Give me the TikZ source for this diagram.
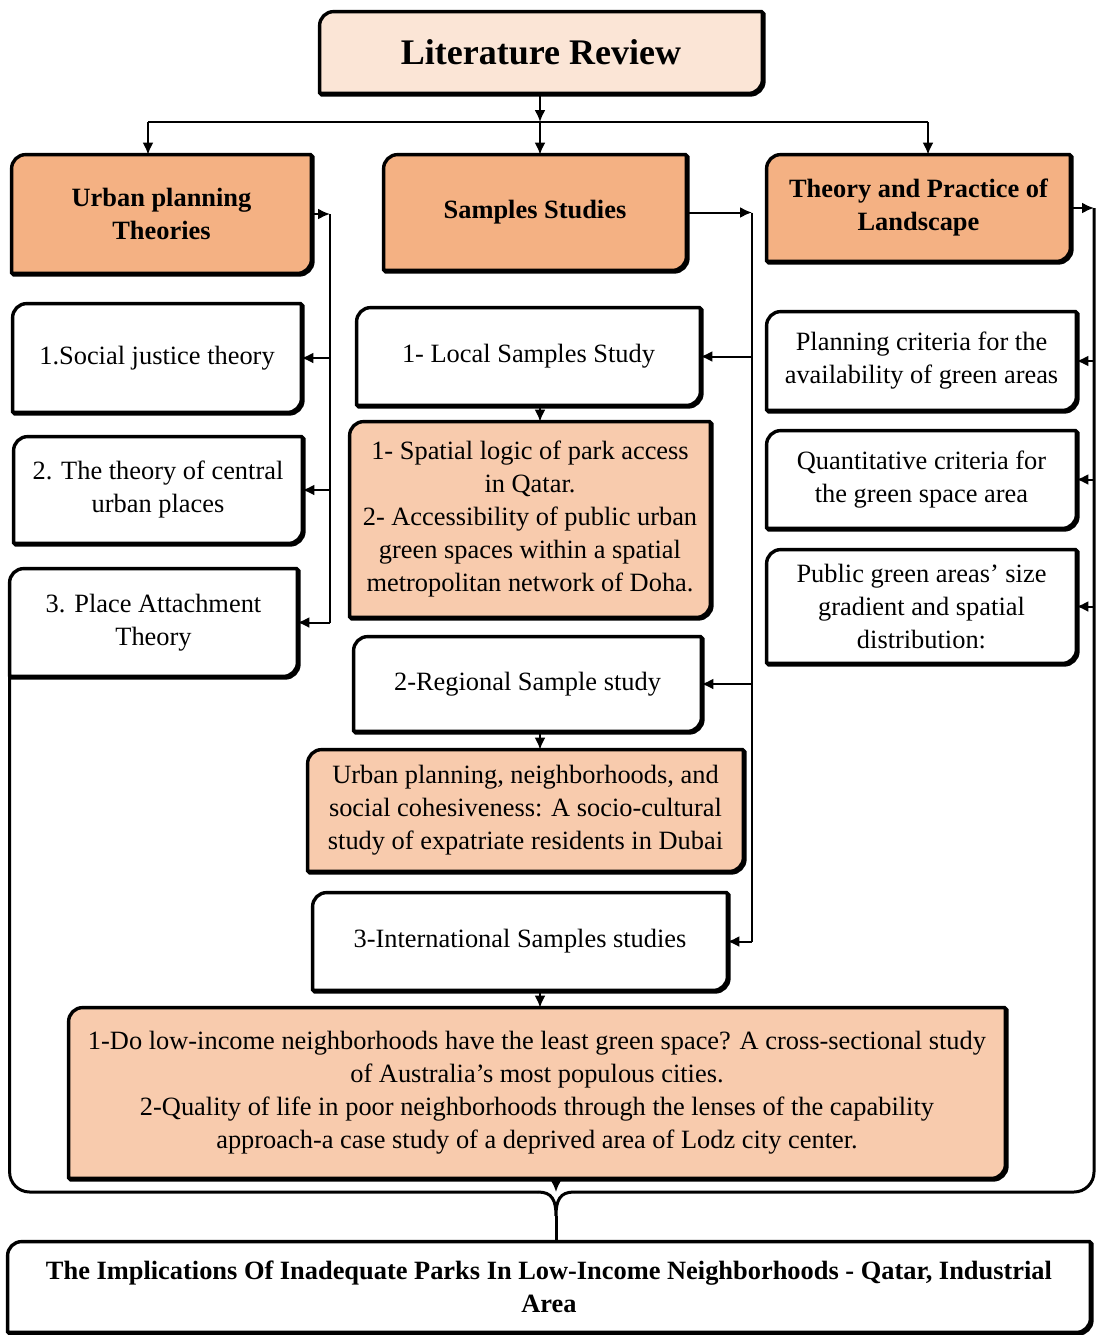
\documentclass[tikz,border=0pt]{standalone}
\usepackage{fontspec}
\setmainfont{Liberation Serif}
\usetikzlibrary{arrows.meta, backgrounds, calc}
\definecolor{PaleRose}{RGB}{251,229,214}
\definecolor{HeadOrange}{RGB}{244,177,131}
\definecolor{StudyPeach}{RGB}{248,203,173}
\newcommand{\cornr}{7pt}
\newcommand{\frpath}[1]{([yshift=-\cornr]#1.north west) arc[start angle=180, end angle=90, radius=\cornr] -- (#1.north east) -- ([yshift=\cornr]#1.south east) arc[start angle=0, end angle=-90, radius=\cornr] -- (#1.south west) -- cycle}
\newcommand{\litframe}[2]{%
	\filldraw[boxline, transform canvas={shift={(0.8pt,-0.8pt)}}] \frpath{#1};
	\filldraw[boxline, fill=#2] \frpath{#1};}

\begin{document}
\begin{tikzpicture}[x=0.5pt, y=-0.5pt,
	tbox/.style={align=center, inner sep=0pt, font=\fontsize{13.2}{16.5}\selectfont},
	hbox/.style={tbox, font=\fontsize{13.2}{16.5}\selectfont\bfseries},
	boxline/.style={line width=1.7pt, line join=round},
	conn/.style={line width=1pt},
	arr/.style={conn, -{Latex[length=6pt, width=5.5pt]}},
	braceline/.style={line width=1.5pt}]
	\useasboundingbox (0,0) rectangle (1096,1335);

	% headings
	\node[hbox, font=\fontsize{18}{22}\selectfont\bfseries, minimum width=221pt, minimum height=40.5pt] (lit) at (541,52.5) {Literature Review};
	\node[hbox, minimum width=149.5pt, minimum height=59pt] (urb) at (161.5,214) {Urban planning\\Theories};
	\node[hbox, minimum width=151pt, minimum height=57.5pt] (sam) at (535,212.5) {Samples Studies};
	\node[hbox, minimum width=151.5pt, minimum height=53pt] (the) at (918.5,208) {Theory and Practice of\\Landscape};

	% theories
	\node[tbox, minimum width=144pt, minimum height=54pt] (soc) at (157,358) {1.Social justice theory};
	\node[tbox, minimum width=144pt, minimum height=53pt] (cen) at (158,490) {2. The theory of central\\urban places};
	\node[tbox, minimum width=143.5pt, minimum height=53.5pt] (pla) at (153.5,622.5) {3. Place Attachment\\Theory};

	% samples
	\node[tbox, minimum width=171.5pt, minimum height=48.5pt] (loc) at (528.5,356.5) {1- Local Samples Study};
	\node[tbox, minimum width=180pt, minimum height=97.5pt] (spa) at (530,519.5) {1- Spatial logic of park access\\in Qatar.\\2- Accessibility of public urban\\green spaces within a spatial\\metropolitan network of Doha.};
	\node[tbox, minimum width=173.5pt, minimum height=47pt] (reg) at (527.5,684) {2-Regional Sample study};
	\node[tbox, minimum width=217.5pt, minimum height=60.5pt] (urp) at (525.5,810.5) {Urban planning, neighborhoods, and\\social cohesiveness: A socio-cultural\\study of expatriate residents in Dubai};
	\node[tbox, minimum width=207pt, minimum height=48.5pt] (int) at (520,941.5) {3-International Samples studies};
	\node[tbox, minimum width=468pt, minimum height=85pt] (dod) at (537,1093) {1-Do low-income neighborhoods have the least green space? A cross-sectional study\\of Australia’s most populous cities.\\2-Quality of life in poor neighborhoods through the lenses of the capability\\approach-a case study of a deprived area of Lodz city center.};

	% landscape
	\node[tbox, minimum width=154.5pt, minimum height=49pt] (avl) at (921.5,361) {Planning criteria for the\\availability of green areas};
	\node[tbox, minimum width=154.5pt, minimum height=48.5pt] (qua) at (921.5,479.5) {Quantitative criteria for\\the green space area};
	\node[tbox, minimum width=154.5pt, minimum height=56.5pt] (pub) at (921.5,606.5) {Public green areas' size\\gradient and spatial\\distribution:};

	\node[hbox, minimum width=541pt, minimum height=45pt] (fin) at (549,1287) {The Implications Of Inadequate Parks In Low-Income Neighborhoods - Qatar, Industrial\\Area};

	\begin{scope}[on background layer]
		\foreach \n/\c in {lit/PaleRose, urb/HeadOrange, sam/HeadOrange, the/HeadOrange,
			soc/white, cen/white, pla/white, loc/white, spa/StudyPeach, reg/white,
			urp/StudyPeach, int/white, dod/StudyPeach, avl/white, qua/white, pub/white, fin/white}
			\litframe{\n}{\c};
	\end{scope}

	% top split
	\coordinate (busL) at (148,122);
	\coordinate (busR) at (928,122);
	\coordinate (mid) at (540,0);
	\draw[arr] (lit.south -| mid) -- (mid |- busL);
	\draw[conn] (busL) -- (busR);
	\draw[arr] (busL) -- (busL |- urb.north);
	\draw[arr] (mid |- busL) -- (mid |- sam.north);
	\draw[arr] (busR) -- (busR |- the.north);

	% side buses
	\coordinate (ubus) at (330,0);
	\coordinate (sbus) at (752,0);
	\coordinate (rbus) at (1094,0);
	\draw[arr] (urb.east) -- (urb.east -| ubus);
	\draw[conn] (urb.east -| ubus) -- (pla.east -| ubus);
	\foreach \n in {soc, cen, pla}
		\draw[arr] (\n.east -| ubus) -- (\n.east);
	\draw[arr] (sam.east) -- (sam.east -| sbus);
	\draw[conn] (sam.east -| sbus) -- (int.east -| sbus);
	\foreach \n in {loc, reg, int}
		\draw[arr] (\n.east -| sbus) -- (\n.east);
	\draw[arr] (the.east) -- (the.east -| rbus);
	\foreach \n in {avl, qua, pub}
		\draw[arr] (\n.east -| rbus) -- (\n.east);

	% middle column
	\draw[arr] (loc.south -| mid) -- (spa.north -| mid);
	\draw[arr] (reg.south -| mid) -- (urp.north -| mid);
	\draw[arr] (int.south -| mid) -- (dod.north -| mid);

	% brace into the result
	\coordinate (tip) at (556,1216);
	\coordinate (brL) at (538,1192);
	\coordinate (brR) at (574,1192);
	\draw[arr] (dod.south -| tip) -- (tip |- brL);
	\draw[braceline, rounded corners=10pt] (pla.south west) -- (pla.south west |- brL) -- (brL);
	\draw[braceline, rounded corners=10pt] (the.east -| rbus) -- (rbus |- brR) -- (brR);
	\draw[braceline] (brL) .. controls (552,1192) and (556,1200) .. (tip) .. controls (556,1200) and (560,1192) .. (brR);
	\draw[braceline] (tip) -- (tip |- fin.north);
\end{tikzpicture}
\end{document}
